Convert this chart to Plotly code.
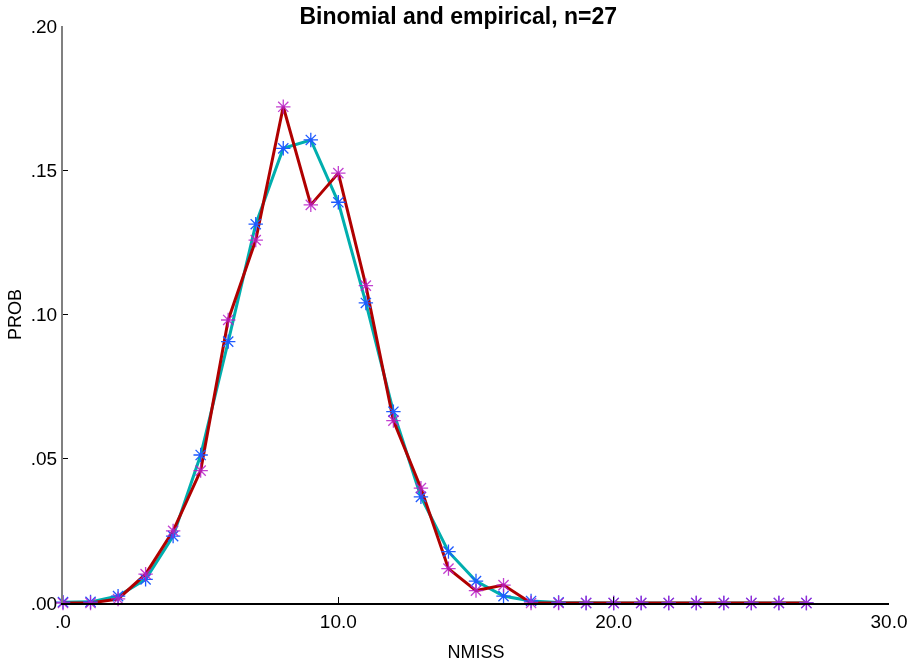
import plotly.graph_objects as go

nmiss = list(range(0, 28))
binom = [0.0003, 0.0004, 0.0024, 0.0082, 0.0232, 0.0513, 0.0906, 0.1313, 0.1576,
         0.1605, 0.1389, 0.1040, 0.0663, 0.0368, 0.0178, 0.0076, 0.0024, 0.0007,
         0.0002, 0.0, 0.0, 0.0, 0.0, 0.0, 0.0, 0.0, 0.0, 0.0]
empir = [0.0, 0.0, 0.0014, 0.0100, 0.0250, 0.0459, 0.0981, 0.1258, 0.1720,
         0.1380, 0.1490, 0.1100, 0.0632, 0.0398, 0.0119, 0.0043, 0.0062, 0.0,
         0.0, 0.0, 0.0, 0.0, 0.0, 0.0, 0.0, 0.0, 0.0, 0.0]

y_ticks = [0.0, 0.05, 0.10, 0.15, 0.20]
y_labels = [".00", ".05", ".10", ".15", ".20"]
x_ticks = [0, 10, 20, 30]
x_labels = [".0", "10.0", "20.0", "30.0"]

fig = go.Figure()
fig.add_trace(go.Scatter(x=nmiss, y=binom, mode="lines",
                         line=dict(color="#00AEAE", width=3), cliponaxis=False,
                         showlegend=False))
fig.add_trace(go.Scatter(x=nmiss, y=empir, mode="lines",
                         line=dict(color="#B00000", width=3), cliponaxis=False,
                         showlegend=False))
fig.add_trace(go.Scatter(x=nmiss, y=binom, mode="markers",
                         marker=dict(symbol="asterisk-open", size=12, color="#1E5AFF",
                                     line=dict(color="#1E5AFF", width=1.3)),
                         cliponaxis=False, showlegend=False))
fig.add_trace(go.Scatter(x=nmiss, y=empir, mode="markers", opacity=0.85,
                         marker=dict(symbol="asterisk-open", size=12, color="#B81EC8",
                                     line=dict(color="#B81EC8", width=1.3)),
                         cliponaxis=False, showlegend=False))

fig.update_layout(
    width=911, height=662,
    margin=dict(l=63, r=22, t=26, b=59),
    paper_bgcolor="white", plot_bgcolor="white",
    font=dict(family="Liberation Sans, Arial, sans-serif", size=19, color="black"),
    title=dict(text="<b>Binomial and empirical, n=27</b>", x=0.503, xref="container",
               y=0.988, yref="container", yanchor="top", font=dict(size=23)),
    xaxis=dict(range=[0, 30], tickvals=x_ticks, ticktext=x_labels, automargin=False,
               showgrid=False, zeroline=False, showline=True, linecolor="black",
               linewidth=1.5, ticks="inside", ticklen=6, tickcolor="black",
               tickfont=dict(size=19),
               title=dict(text="NMISS", font=dict(size=18), standoff=18)),
    yaxis=dict(range=[0, 0.2], tickvals=y_ticks, ticktext=y_labels, automargin=False,
               showgrid=False, zeroline=False, showline=True, linecolor="#808080",
               linewidth=2, ticks="inside", ticklen=5, tickcolor="black",
               tickfont=dict(size=19),
               title=dict(text="PROB", font=dict(size=18), standoff=4)),
)

fig.write_html("out.html", config={"displayModeBar": False},
               post_script="document.body.style.margin='0';")
